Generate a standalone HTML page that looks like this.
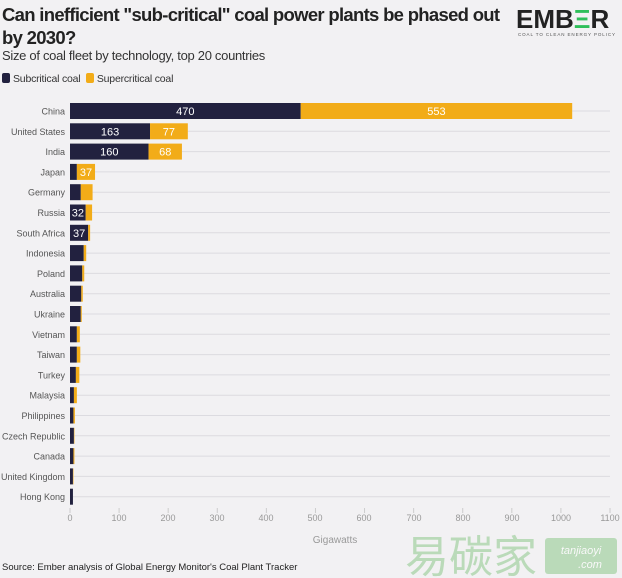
<!DOCTYPE html>
<html><head><meta charset="utf-8"><style>
body{margin:0;width:622px;height:578px;background:#f2f1f3;font-family:"Liberation Sans",sans-serif;overflow:hidden;position:relative}
.t{position:absolute;left:2px;top:3px;font-size:18.5px;font-weight:bold;color:#222;line-height:23px;width:540px;letter-spacing:-0.7px;white-space:nowrap}
.s{position:absolute;left:2px;top:48px;font-size:13px;color:#333;letter-spacing:-0.3px}
.lg{position:absolute;left:2px;top:73px;font-size:10.5px;color:#333;letter-spacing:-0.2px}
.lg i{display:inline-block;width:8px;height:10px;border-radius:2px;vertical-align:-1px;margin-right:3px}
.logo{position:absolute;left:516px;top:4px;font-size:26px;font-weight:bold;color:#222;letter-spacing:0px}
.logo2{position:absolute;left:518px;top:32px;font-size:4.5px;color:#555;letter-spacing:0.9px}
</style></head><body>
<div class="t">Can inefficient "sub-critical" coal power plants be phased out<br>by 2030?</div>
<div class="logo">EMB<span style="color:#2fbf5a">Ξ</span>R</div>
<div class="logo2">COAL TO CLEAN ENERGY POLICY</div>
<div class="s">Size of coal fleet by technology, top 20 countries</div>
<div class="lg"><i style="background:#22213f"></i>Subcritical coal &nbsp;<i style="background:#f2ac18"></i>Supercritical coal</div>
<svg width="622" height="578" style="position:absolute;left:0;top:0" font-family="Liberation Sans, sans-serif">
<g id="g"></g>
<g font-size="9" fill="#999" text-anchor="middle">
<text x="70" y="521">0</text><text x="119" y="521">100</text><text x="168" y="521">200</text><text x="217" y="521">300</text><text x="266" y="521">400</text><text x="315" y="521">500</text><text x="364" y="521">600</text><text x="414" y="521">700</text><text x="463" y="521">800</text><text x="512" y="521">900</text><text x="561" y="521">1000</text><text x="610" y="521">1100</text>
<text x="335" y="543" font-size="10">Gigawatts</text>
</g>
<text x="2" y="570" font-size="9.5" fill="#222">Source: Ember analysis of Global Energy Monitor's Coal Plant Tracker</text>
<g opacity="0.55"><text x="405" y="572" font-size="44" fill="#8dc98a" font-family="Noto Sans CJK SC, sans-serif">易碳家</text>
<rect x="545" y="538" width="72" height="36" rx="3" fill="#8dc98a"/><text x="581" y="554" font-size="11" fill="#fff" text-anchor="middle" font-style="italic">tanjiaoyi</text><text x="590" y="568" font-size="11" fill="#fff" text-anchor="middle" font-style="italic">.com</text></g>
</svg>
<script>
var d=[["China",470,553,1],["United States",163,77,1],["India",160,68,1],["Japan",14,37,2],["Germany",22,24],["Russia",32,13,3],["South Africa",37,4,3],["Indonesia",28,5],["Poland",25,4],["Australia",23,3],["Ukraine",22,2],["Vietnam",14,6],["Taiwan",14,7],["Turkey",12,7],["Malaysia",8,6],["Philippines",7,3],["Czech Republic",8,1],["Canada",7,2],["United Kingdom",6,1],["Hong Kong",6,0]];
var k=540/1100,h="";
for(var i=0;i<20;i++){var r=d[i],y=111+i*20.3,a=r[1]*k,b=r[2]*k,x0=70;
h+='<line x1="'+(x0+a+b)+'" x2="610" y1="'+y+'" y2="'+y+'" stroke="#dcdbe0" stroke-width="1"/>';
h+='<text x="65" y="'+(y+3.5)+'" font-size="9" fill="#555" text-anchor="end">'+r[0]+'</text>';
h+='<rect x="'+x0+'" y="'+(y-8)+'" width="'+a+'" height="16" fill="#22213f"/>';
h+='<rect x="'+(x0+a)+'" y="'+(y-8)+'" width="'+b+'" height="16" fill="#f2ac18"/>';
if(r[3]==1||r[3]==3)h+='<text x="'+(x0+a/2)+'" y="'+(y+4)+'" font-size="11" fill="#fff" text-anchor="middle">'+r[1]+'</text>';
if(r[3]==1||r[3]==2)h+='<text x="'+(x0+a+b/2)+'" y="'+(y+4)+'" font-size="11" fill="#fff" text-anchor="middle">'+r[2]+'</text>';}
for(var j=0;j<12;j++){var x=70+j*100*k;h+='<line x1="'+x+'" x2="'+x+'" y1="508" y2="513" stroke="#ccc"/>';}
document.getElementById("g").innerHTML=h;
</script>
</body></html>
